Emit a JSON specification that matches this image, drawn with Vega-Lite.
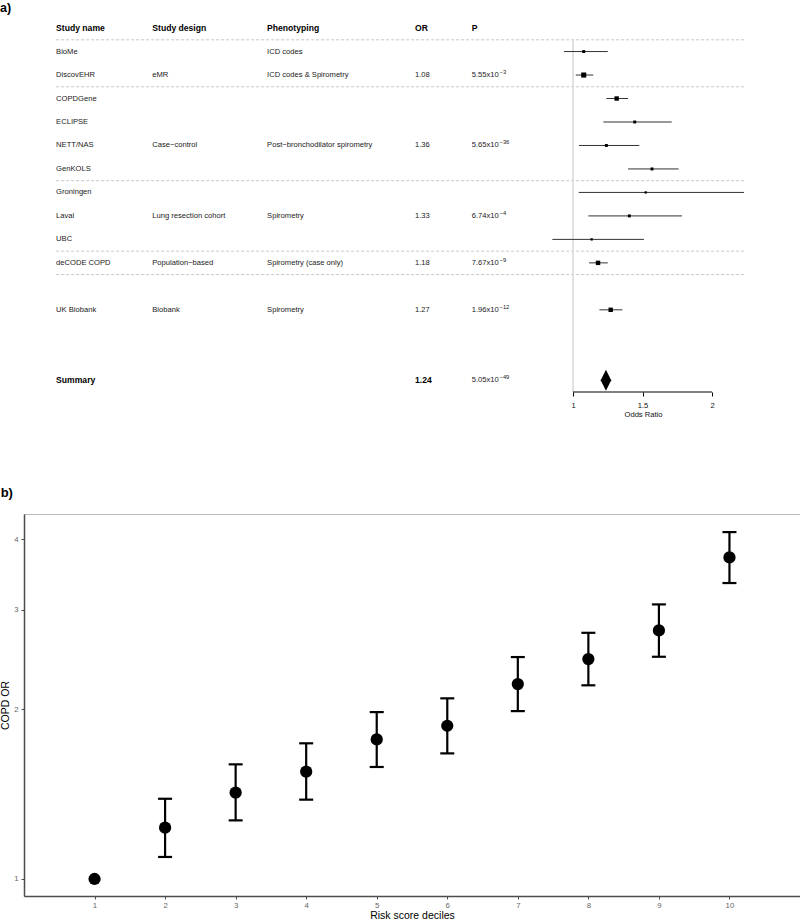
{
  "$schema": "https://vega.github.io/schema/vega-lite/v6.json",
  "padding": 0,
  "spacing": 67,
  "background": "white",
  "config": {"font": "Liberation Sans", "view": {"stroke": null}},
  "datasets": {
    "studies": [
      {"study": "BioMe", "name": "BioMe", "design": "", "pheno": "ICD codes", "ortxt": "", "pm": "", "pe": "", "or": 1.077, "lo": 0.935, "hi": 1.25, "w": 2},
      {"study": "DiscovEHR", "name": "DiscovEHR", "design": "eMR", "pheno": "ICD codes & Spirometry", "ortxt": "1.08", "pm": "5.55x10", "pe": "−3", "or": 1.077, "lo": 1.02, "hi": 1.146, "w": 6},
      {"study": "COPDGene", "name": "COPDGene", "design": "", "pheno": "", "ortxt": "", "pm": "", "pe": "", "or": 1.314, "lo": 1.24, "hi": 1.396, "w": 4.5},
      {"study": "ECLIPSE", "name": "ECLIPSE", "design": "", "pheno": "", "ortxt": "", "pm": "", "pe": "", "or": 1.444, "lo": 1.218, "hi": 1.71, "w": 2},
      {"study": "NETT/NAS", "name": "NETT/NAS", "design": "Case−control", "pheno": "Post−bronchodilator spirometry", "ortxt": "1.36", "pm": "5.65x10", "pe": "−36", "or": 1.24, "lo": 1.043, "hi": 1.477, "w": 2},
      {"study": "GenKOLS", "name": "GenKOLS", "design": "", "pheno": "", "ortxt": "", "pm": "", "pe": "", "or": 1.568, "lo": 1.396, "hi": 1.76, "w": 2},
      {"study": "Groningen", "name": "Groningen", "design": "", "pheno": "", "ortxt": "", "pm": "", "pe": "", "or": 1.523, "lo": 1.041, "hi": 2.23, "w": 1.2},
      {"study": "Laval", "name": "Laval", "design": "Lung resection cohort", "pheno": "Spirometry", "ortxt": "1.33", "pm": "6.74x10", "pe": "−4", "or": 1.405, "lo": 1.11, "hi": 1.784, "w": 2},
      {"study": "UBC", "name": "UBC", "design": "", "pheno": "", "ortxt": "", "pm": "", "pe": "", "or": 1.134, "lo": 0.851, "hi": 1.51, "w": 1.2},
      {"study": "deCODE COPD", "name": "deCODE COPD", "design": "Population−based", "pheno": "Spirometry (case only)", "ortxt": "1.18", "pm": "7.67x10", "pe": "−9", "or": 1.18, "lo": 1.115, "hi": 1.25, "w": 4.5},
      {"study": "UK Biobank", "name": "UK Biobank", "design": "Biobank", "pheno": "Spirometry", "ortxt": "1.27", "pm": "1.96x10", "pe": "−12", "or": 1.271, "lo": 1.19, "hi": 1.355, "w": 4.5},
      {"study": "Summary", "name": "", "design": "", "pheno": "", "ortxt": "", "pm": "5.05x10", "pe": "−49", "or": 1.237, "lo": 1.2, "hi": 1.28, "w": 0}
    ],
    "bold": [
      {"study": "header", "name": "Study name", "design": "Study design", "pheno": "Phenotyping", "ortxt": "OR", "pm": "P"},
      {"study": "Summary", "name": "Summary", "design": "", "pheno": "", "ortxt": "1.24", "pm": ""}
    ],
    "seps": [{"study": "s1"}, {"study": "s2"}, {"study": "s3"}, {"study": "s4"}, {"study": "s5"}],
    "labels": [{"lab": "a)"}],
    "deciles": [
      {"decile": 1, "or": 1.0, "lo": null, "hi": null},
      {"decile": 2, "or": 1.233, "lo": 1.094, "hi": 1.387},
      {"decile": 3, "or": 1.422, "lo": 1.27, "hi": 1.596},
      {"decile": 4, "or": 1.549, "lo": 1.382, "hi": 1.739},
      {"decile": 5, "or": 1.767, "lo": 1.579, "hi": 1.975},
      {"decile": 6, "or": 1.868, "lo": 1.669, "hi": 2.089},
      {"decile": 7, "or": 2.214, "lo": 1.983, "hi": 2.472},
      {"decile": 8, "or": 2.452, "lo": 2.203, "hi": 2.729},
      {"decile": 9, "or": 2.756, "lo": 2.475, "hi": 3.064},
      {"decile": 10, "or": 3.711, "lo": 3.343, "hi": 4.115}
    ]
  },
  "vconcat": [
    {
      "width": 776,
      "height": 392,
      "view": {"stroke": null},
      "layer": [
        {
          "data": {"name": "seps"},
          "mark": {"type": "rule", "color": "#c8c8c8", "strokeWidth": 1, "strokeDash": [3, 2]},
          "encoding": {
            "x": {"datum": -2.719, "type": "quantitative", "scale": {"domain": [-2.95, 2.633], "nice": false, "zero": false}, "axis": {"values": [1, 1.5, 2], "format": "~g", "domain": false, "grid": false, "ticks": true, "tickColor": "#000", "tickSize": 4, "labelFontSize": 7.6, "labelColor": "#111", "labelPadding": 5, "labelFlush": false, "title": "Odds Ratio", "titleX": 619, "titleAlign": "center", "titleFontSize": 7.6, "titleFontWeight": "normal", "titleColor": "#111", "titlePadding": 2}},
            "x2": {"datum": 2.237},
            "y": {"field": "study", "type": "nominal", "scale": {"type": "point", "domain": ["lab", "tx", "header", "s1", "BioMe", "x1", "DiscovEHR", "s2", "COPDGene", "x2", "ECLIPSE", "x3", "NETT/NAS", "x4", "GenKOLS", "s3", "Groningen", "x5", "Laval", "x6", "UBC", "s4", "deCODE COPD", "s5", "gapA", "x7", "UK Biobank", "x8", "gapB", "x9", "gapC", "x10", "Summary", "ax"], "range": [4.6, 392], "padding": 0}, "axis": null}
          }
        },
        {
          "data": {"name": "labels"},
          "mark": {"type": "rule", "color": "#d9d9d9", "strokeWidth": 1.5},
          "encoding": {
            "x": {"datum": 1, "type": "quantitative"},
            "y": {"datum": "s1", "type": "nominal"},
            "y2": {"datum": "ax"}
          }
        },
        {
          "data": {"name": "studies"},
          "transform": [{"filter": "datum.study !== 'Summary'"}],
          "mark": {"type": "rule", "color": "#333", "strokeWidth": 1},
          "encoding": {
            "x": {"field": "lo", "type": "quantitative"},
            "x2": {"field": "hi"},
            "y": {"field": "study", "type": "nominal"}
          }
        },
        {
          "data": {"name": "studies"},
          "transform": [{"filter": "datum.study !== 'Summary'"}],
          "mark": {"type": "point", "shape": "square", "filled": true, "color": "#000", "opacity": 1},
          "encoding": {
            "x": {"field": "or", "type": "quantitative"},
            "y": {"field": "study", "type": "nominal"},
            "size": {"field": "w", "type": "quantitative", "scale": {"domain": [0, 6], "range": [0, 26]}, "legend": null}
          }
        },
        {
          "data": {"name": "studies"},
          "transform": [{"filter": "datum.study === 'Summary'"}],
          "mark": {"type": "point", "shape": "M0,-1L0.5,0L0,1L-0.5,0Z", "filled": true, "color": "#000", "opacity": 1, "size": 441},
          "encoding": {
            "x": {"field": "or", "type": "quantitative"},
            "y": {"field": "study", "type": "nominal"}
          }
        },
        {
          "data": {"name": "labels"},
          "mark": {"type": "rule", "color": "#000", "strokeWidth": 1},
          "encoding": {
            "x": {"datum": 1, "type": "quantitative"},
            "x2": {"datum": 2},
            "y": {"datum": "ax", "type": "nominal"}
          }
        },
        {
          "data": {"name": "labels"},
          "mark": {"type": "text", "align": "left", "baseline": "middle", "fontSize": 12.5, "fontWeight": "bold", "dy": 3.5, "color": "#000"},
          "encoding": {
            "x": {"datum": -3.122, "type": "quantitative"},
            "y": {"datum": "lab", "type": "nominal"},
            "text": {"field": "lab"}
          }
        },
        {
          "data": {"name": "studies"},
          "mark": {"type": "text", "align": "left", "baseline": "middle", "fontSize": 7.6, "color": "#1a1a1a"},
          "encoding": {"x": {"datum": -2.719, "type": "quantitative"}, "y": {"field": "study", "type": "nominal"}, "text": {"field": "name"}}
        },
        {
          "data": {"name": "studies"},
          "mark": {"type": "text", "align": "left", "baseline": "middle", "fontSize": 7.6, "color": "#1a1a1a"},
          "encoding": {"x": {"datum": -2.027, "type": "quantitative"}, "y": {"field": "study", "type": "nominal"}, "text": {"field": "design"}}
        },
        {
          "data": {"name": "studies"},
          "mark": {"type": "text", "align": "left", "baseline": "middle", "fontSize": 7.6, "color": "#1a1a1a"},
          "encoding": {"x": {"datum": -1.201, "type": "quantitative"}, "y": {"field": "study", "type": "nominal"}, "text": {"field": "pheno"}}
        },
        {
          "data": {"name": "studies"},
          "mark": {"type": "text", "align": "left", "baseline": "middle", "fontSize": 7.6, "color": "#1a1a1a"},
          "encoding": {"x": {"datum": -0.137, "type": "quantitative"}, "y": {"field": "study", "type": "nominal"}, "text": {"field": "ortxt"}}
        },
        {
          "data": {"name": "studies"},
          "mark": {"type": "text", "align": "left", "baseline": "middle", "fontSize": 7.6, "color": "#1a1a1a"},
          "encoding": {"x": {"datum": 0.271, "type": "quantitative"}, "y": {"field": "study", "type": "nominal"}, "text": {"field": "pm"}}
        },
        {
          "data": {"name": "studies"},
          "mark": {"type": "text", "align": "left", "baseline": "middle", "fontSize": 5.8, "dx": 27.8, "dy": -3, "color": "#1a1a1a"},
          "encoding": {"x": {"datum": 0.271, "type": "quantitative"}, "y": {"field": "study", "type": "nominal"}, "text": {"field": "pe"}}
        },
        {
          "data": {"name": "bold"},
          "mark": {"type": "text", "align": "left", "baseline": "middle", "fontSize": 8.6, "fontWeight": "bold", "color": "#000"},
          "encoding": {"x": {"datum": -2.719, "type": "quantitative"}, "y": {"field": "study", "type": "nominal"}, "text": {"field": "name"}}
        },
        {
          "data": {"name": "bold"},
          "mark": {"type": "text", "align": "left", "baseline": "middle", "fontSize": 8.6, "fontWeight": "bold", "color": "#000"},
          "encoding": {"x": {"datum": -2.027, "type": "quantitative"}, "y": {"field": "study", "type": "nominal"}, "text": {"field": "design"}}
        },
        {
          "data": {"name": "bold"},
          "mark": {"type": "text", "align": "left", "baseline": "middle", "fontSize": 8.6, "fontWeight": "bold", "color": "#000"},
          "encoding": {"x": {"datum": -1.201, "type": "quantitative"}, "y": {"field": "study", "type": "nominal"}, "text": {"field": "pheno"}}
        },
        {
          "data": {"name": "bold"},
          "mark": {"type": "text", "align": "left", "baseline": "middle", "fontSize": 8.6, "fontWeight": "bold", "color": "#000"},
          "encoding": {"x": {"datum": -0.137, "type": "quantitative"}, "y": {"field": "study", "type": "nominal"}, "text": {"field": "ortxt"}}
        },
        {
          "data": {"name": "bold"},
          "mark": {"type": "text", "align": "left", "baseline": "middle", "fontSize": 8.6, "fontWeight": "bold", "color": "#000"},
          "encoding": {"x": {"datum": 0.271, "type": "quantitative"}, "y": {"field": "study", "type": "nominal"}, "text": {"field": "pm"}}
        }
      ]
    },
    {
      "width": 776,
      "height": 382,
      "view": {"stroke": "#b8b8b8", "strokeWidth": 1},
      "title": {"text": "b)", "anchor": "start", "frame": "bounds", "fontSize": 13, "fontWeight": "bold", "offset": 14, "color": "#000"},
      "data": {"name": "deciles"},
      "encoding": {
        "x": {"field": "decile", "type": "quantitative", "scale": {"domain": [0, 11], "nice": false, "zero": false}, "axis": {"values": [1, 2, 3, 4, 5, 6, 7, 8, 9, 10], "format": "d", "grid": false, "domainColor": "#4d4d4d", "domainWidth": 1.5, "tickColor": "#4d4d4d", "tickSize": 3, "labelColor": "#666", "labelFontSize": 7.8, "labelPadding": 2, "title": "Risk score deciles", "titleFontSize": 10.5, "titleFontWeight": "normal", "titleColor": "#000", "titlePadding": 2}}
      },
      "layer": [
        {
          "transform": [{"filter": "datum.lo != null"}],
          "mark": {"type": "rule", "color": "#000", "strokeWidth": 2.2},
          "encoding": {
            "y": {"field": "lo", "type": "quantitative", "scale": {"type": "log", "domain": [0.933, 4.43], "nice": false}, "axis": {"values": [1, 2, 3, 4], "format": "d", "grid": false, "domainColor": "#4d4d4d", "domainWidth": 1.5, "tickColor": "#4d4d4d", "tickSize": 3, "labelColor": "#666", "labelFontSize": 7.8, "labelPadding": 3, "title": "COPD OR", "titleFontSize": 10.5, "titleFontWeight": "normal", "titleColor": "#000", "titlePadding": 3}},
            "y2": {"field": "hi"}
          }
        },
        {
          "transform": [{"filter": "datum.lo != null"}],
          "mark": {"type": "tick", "orient": "horizontal", "color": "#000", "size": 14, "thickness": 2.2, "opacity": 1},
          "encoding": {"y": {"field": "lo", "type": "quantitative"}}
        },
        {
          "transform": [{"filter": "datum.lo != null"}],
          "mark": {"type": "tick", "orient": "horizontal", "color": "#000", "size": 14, "thickness": 2.2, "opacity": 1},
          "encoding": {"y": {"field": "hi", "type": "quantitative"}}
        },
        {
          "mark": {"type": "point", "filled": true, "color": "#000", "opacity": 1, "size": 150},
          "encoding": {"y": {"field": "or", "type": "quantitative"}}
        }
      ]
    }
  ]
}
